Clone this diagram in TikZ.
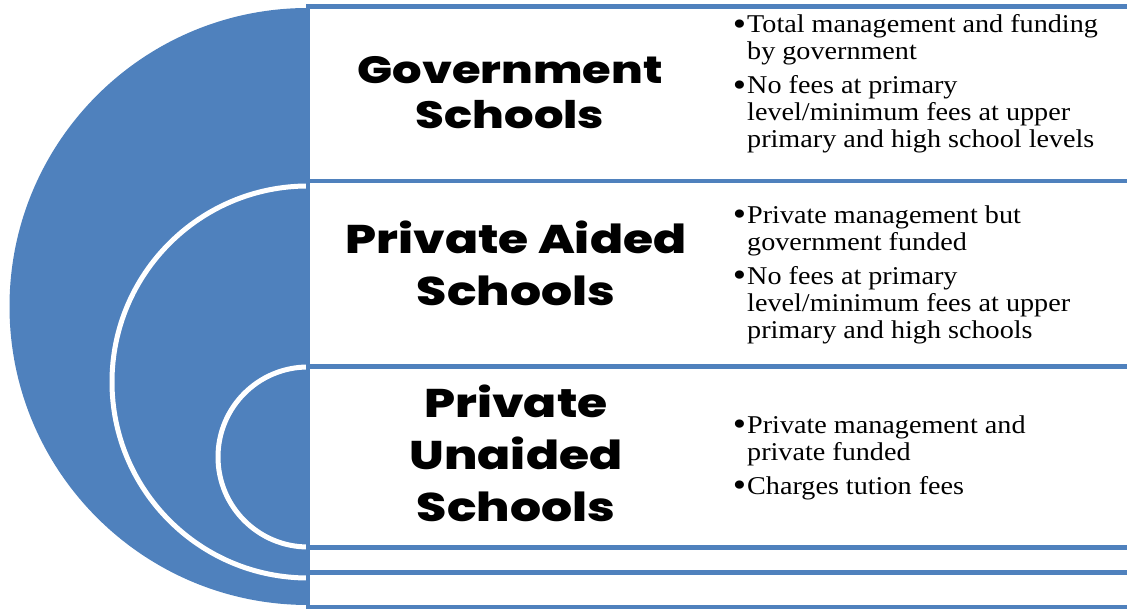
\documentclass[tikz,border=0pt]{standalone}
\usepackage{fontspec}
\usepackage{graphicx}
\setmainfont{Liberation Serif}[FakeStretch=1.1]
\newfontfamily\headfont{Poppins}[BoldFont={Poppins ExtraBold}, FakeStretch=1.22]
\newcommand{\blt}{\llap{\raisebox{-2.5pt}{\scalebox{1.35}{•}}\kern1pt}}
\definecolor{acc}{HTML}{4F81BD}
\begin{document}
\begin{tikzpicture}[x=1pt,y=1pt,
  rowbox/.style={fill=white, draw=acc, line width=4.5pt},
  arcline/.style={draw=white, line width=5pt},
  head/.style={align=center, inner sep=0pt, font=\headfont\bfseries},
  bul/.style={align=left, inner sep=0pt, anchor=north west, font=\fontsize{25.6}{27}\selectfont}]
\useasboundingbox (0,0) rectangle (1127,609);
% semicircles
\fill[acc] (308,601) arc[start angle=90,end angle=270,radius=298.5] -- cycle;
\fill[acc] (308,423) arc[start angle=90,end angle=270,radius=196] -- cycle;
\draw[arcline] (308,423) arc[start angle=90,end angle=270,radius=196];
\fill[acc] (308,242) arc[start angle=90,end angle=270,radius=90] -- cycle;
\draw[arcline] (308,242) arc[start angle=90,end angle=270,radius=90];
% rows
\draw[rowbox] (308,428) rectangle (1140,602.5);
\draw[rowbox] (308,242.5) rectangle (1140,428);
\draw[rowbox] (308,61.5) rectangle (1140,242.5);
\draw[rowbox] (308,36.5) rectangle (1140,61.5);
\draw[rowbox] (308,2) rectangle (1140,36.5);
% headings
\node[head, font=\headfont\bfseries\fontsize{38}{45}\selectfont] (h1) at (510,516) {Government\\Schools};
\node[head, font=\headfont\bfseries\fontsize{40}{52}\selectfont] (h2) at (516,346) {Private Aided\\Schools};
\node[head, font=\headfont\bfseries\fontsize{40}{52}\selectfont] (h3) at (516,156) {Private\\Unaided\\Schools};
% bullets
\node[bul] (b1) at (747,594.5) {\blt Total management and funding\\by government\\[7pt]\blt No fees at primary\\level/minimum fees at upper\\primary and high school levels};
\node[bul] (b2) at (747,403.5) {\blt Private management but\\government funded\\[7pt]\blt No fees at primary\\level/minimum fees at upper\\primary and high schools};
\node[bul] (b3) at (747,193.5) {\blt Private management and\\private funded\\[7pt]\blt Charges tution fees};
\end{tikzpicture}
\end{document}
